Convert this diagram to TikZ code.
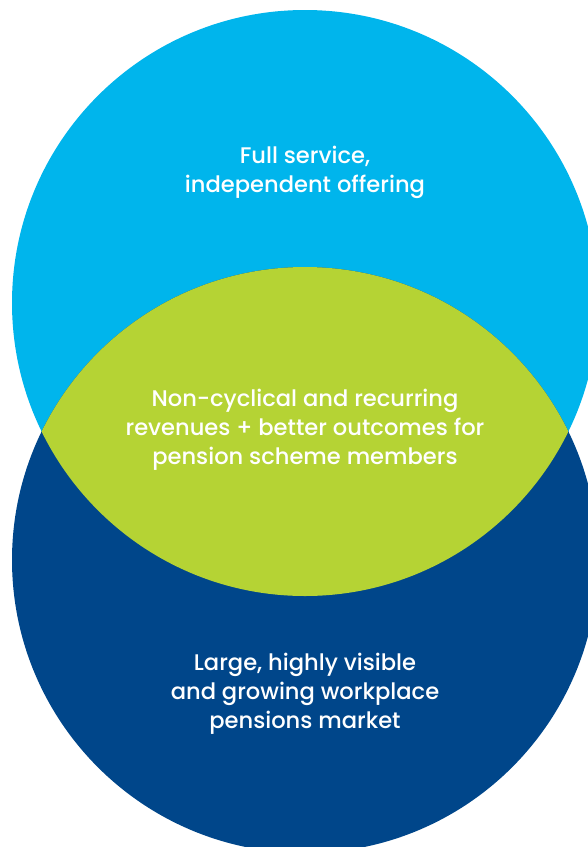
\documentclass[tikz,border=0pt]{standalone}
\usepackage{fontspec}
\setmainfont{Poppins}
\newfontfamily\lblfont{Poppins Medium}
\definecolor{lightblue}{HTML}{00B5EC}
\definecolor{darkblue}{HTML}{00468A}
\definecolor{lime}{HTML}{B5D334}
\begin{document}
\begin{tikzpicture}[x=1pt,y=-1pt,
  label text/.style={text=white,align=center,font=\lblfont\fontsize{22.6}{29}\selectfont}]
\useasboundingbox (0,0) rectangle (588,847);
\clip (0,0) rectangle (588,847);
\fill[lightblue] (305,303) circle (293);
\fill[darkblue] (305,560) circle (293);
\begin{scope}
  \clip (305,303) circle (293);
  \fill[lime] (305,560) circle (293);
\end{scope}
\node[label text] (top) at (305,172) {Full service,\\independent offering};
\node[label text] (mid) at (305,430) {Non-cyclical and recurring\\revenues + better outcomes for\\pension scheme members};
\node[label text] (bot) at (305,694) {Large, highly visible\\and growing workplace\\pensions market};
\end{tikzpicture}
\end{document}
